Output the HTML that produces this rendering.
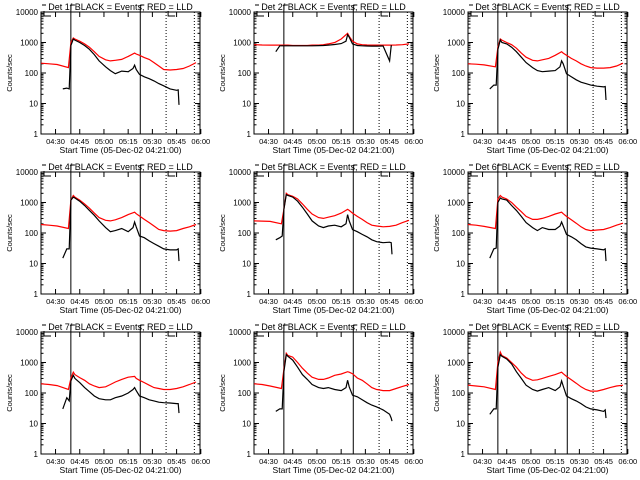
<!DOCTYPE html>
<html><head><meta charset="utf-8"><style>
html,body{margin:0;padding:0;background:#fff;}
svg{display:block;font-family:"Liberation Sans",sans-serif;}
</style></head><body>
<svg id="c" width="640" height="480" viewBox="0 0 640 480"></svg>
<script>
const detectors=["1f","2f","3f","4f","5f","6f","7f","8f","9f"];
const redTimes=[0,5,10,17,18.5,20,21,24,27,30,33,36,40,43,46,50,54,58,59,61,64,67,70,73,76,80,84,88,92,96];
const blackTimes=[13.5,16,17.5,18.5,20,21,24,27,30,33,36,40,43,46,50,54,57,58,59,61,64,67,70,73,76,80,84,85,85.5];
const red1=[210,200,190,150,1000,1400,1300,1100,900,700,500,350,270,250,260,280,350,450,420,380,320,280,220,170,130,125,130,140,170,220];
const black1=[30,32,30,800,1300,1200,1000,800,600,400,250,160,120,95,115,110,140,180,130,90,75,65,55,45,38,30,27,28,9];
const red2=[850,830,820,820,820,820,820,800,800,800,800,820,820,850,900,1000,1300,2000,1600,1100,900,850,830,820,820,820,820,830,850,900];
const black2=[500,780,780,780,780,780,780,780,780,780,780,790,800,820,860,920,1100,1800,1500,900,800,780,770,760,760,770,250,780,780];
const red3=[200,195,185,160,700,1300,1200,1000,850,650,450,330,260,250,270,300,380,500,450,380,300,250,200,170,150,145,145,150,170,210];
const black3=[30,40,40,600,1200,1000,900,700,500,330,220,150,120,110,115,120,160,250,200,95,75,60,50,45,40,37,35,36,13];
const red4=[190,180,170,140,1200,1700,1500,1200,900,650,450,320,260,250,270,320,400,480,430,360,280,220,170,130,120,115,120,140,160,190];
const black4=[15,30,30,1200,1500,1400,1100,800,550,380,250,150,110,120,140,110,150,230,160,80,70,55,45,37,30,28,28,30,12];
const red5=[250,245,240,200,600,2000,1800,1600,1300,900,600,420,320,300,330,370,450,600,550,450,350,280,220,180,170,160,165,180,220,260];
const black5=[60,70,80,600,1800,1700,1500,1100,700,420,250,170,150,170,180,160,200,400,250,130,110,90,75,60,52,48,50,48,20];
const red6=[190,180,165,140,1300,1700,1500,1300,1000,700,500,350,280,280,300,350,420,480,430,350,270,210,160,130,120,125,130,150,180,210];
const black6=[15,30,32,1000,1400,1300,1200,800,550,350,220,150,120,150,130,130,170,230,170,90,75,60,45,35,32,30,28,30,12];
const red7=[200,190,175,130,300,480,400,320,260,200,170,150,160,190,230,280,330,350,300,260,220,180,150,140,130,130,140,160,190,230];
const black7=[30,70,55,250,380,300,220,150,110,80,65,60,60,70,80,100,130,150,120,80,70,60,55,50,48,47,45,45,22];
const red8=[200,190,170,140,600,2000,1700,1500,1000,650,450,330,280,280,310,380,420,500,480,430,310,260,200,150,130,120,120,140,165,190];
const black8=[25,30,30,500,1800,1600,1200,700,400,280,190,150,140,150,130,120,150,260,160,85,75,60,48,40,35,28,20,15,12];
const red9=[180,170,160,130,1000,2200,1700,1400,1000,700,450,320,260,270,300,350,400,480,430,350,270,210,160,130,115,115,130,150,170,180];
const black9=[20,30,30,700,1800,1600,1300,900,500,300,180,130,115,130,150,120,160,250,170,80,65,55,45,35,30,28,25,28,15];
const redSeries=[red1,red2,red3,red4,red5,red6,red7,red8,red9];
const blackSeries=[black1,black2,black3,black4,black5,black6,black7,black8,black9];
const yTicks=[1,10,100,1000,10000];
const yTickLabels=["1","10","100","1000","10000"];
const xTicks=[9,24,39,54,69,84,99];
const xTickLabels=["04:30","04:45","05:00","05:15","05:30","05:45","06:00"];
const solidLines=[18.5,61.5];
const dottedLines=[77.5,95];

const svg=document.getElementById('c');
const NS="http://www.w3.org/2000/svg";
function mk(tag,attrs,parent){const e=document.createElementNS(NS,tag);for(const k in attrs)e.setAttribute(k,attrs[k]);parent.appendChild(e);return e;}

for(let p=0;p<9;p++){
  const ox=Math.round((p%3)*213.3), oy=Math.floor(p/3)*160;
  const L=ox+41,R=ox+200,T=oy+12,B=oy+134;
  const xs=t=>L+t*(R-L)/98.5;
  const ys=v=>B-(Math.log10(v))*(B-T)/4;
  const g=mk('g',{},svg);
  
  
  const box=mk('rect',{x:L,y:T,width:R-L,height:B-T,fill:'none',stroke:'#000','stroke-width':1},g);
  
  
  yTicks.forEach((v,i)=>{
    const y=ys(v);
    mk('line',{x1:L,x2:L+5,y1:y,y2:y,stroke:'#000'},g);
    mk('line',{x1:R-5,x2:R,y1:y,y2:y,stroke:'#000'},g);
    for(let m=2;m<10&&i<4;m++){const yy=ys(v*m);mk('line',{x1:L,x2:L+2.5,y1:yy,y2:yy,stroke:'#000'},g);mk('line',{x1:R-2.5,x2:R,y1:yy,y2:yy,stroke:'#000'},g);}
    const t=mk('text',{x:L-3,y:y+3,'font-size':8,'text-anchor':'end'},g);
    t.textContent=yTickLabels[i];
    
    
  });
  xTicks.forEach((tm,i)=>{
    const x=xs(tm);
    mk('line',{x1:x,x2:x,y1:B,y2:B-5,stroke:'#000'},g);
    mk('line',{x1:x,x2:x,y1:T,y2:T+5,stroke:'#000'},g);
    const t=mk('text',{x:x,y:B+10,'font-size':7.5,'text-anchor':'middle'},g);
    t.textContent=xTickLabels[i];
    
    
  });
  solidLines.forEach(tm=>{const x=xs(tm);mk('line',{x1:x,x2:x,y1:oy+5,y2:B,stroke:'#000'},g);mk('line',{x1:x,x2:x+4,y1:oy+5,y2:oy+5,stroke:'#000'},g);});
  dottedLines.forEach(tm=>{const x=xs(tm);mk('line',{x1:x,x2:x,y1:T,y2:B,stroke:'#000','stroke-dasharray':'1,2'},g);});
  mk('polyline',{points:`${L+3},${T-1} ${L+3},${T+4} ${L+10},${T+4}`,fill:'none',stroke:'#000'},g);
  mk('polyline',{points:`${xs(77.5)+2},${T-1} ${xs(77.5)+2},${T+4} ${xs(77.5)+9},${T+4}`,fill:'none',stroke:'#000'},g);
  mk('line',{x1:L+1,x2:L+5,y1:oy+5,y2:oy+5,stroke:'#000'},g);
  const rp=redTimes.map((tm,i)=>xs(tm).toFixed(1)+','+ys(redSeries[p][i]).toFixed(1)).join(' ');
  const rl=mk('polyline',{points:rp,fill:'none',stroke:'#ff0000','stroke-width':1.2},g);
  
  
  const bp=blackTimes.map((tm,i)=>xs(tm).toFixed(1)+','+ys(blackSeries[p][i]).toFixed(1)).join(' ');
  const bl=mk('polyline',{points:bp,fill:'none',stroke:'#000','stroke-width':1.2},g);
  
  
  const ti=mk('text',{x:(L+R)/2,y:oy+10,'font-size':9,'text-anchor':'middle'},g);
  ti.textContent='Det '+detectors[p]+' BLACK = Events, RED = LLD';
  
  
  const xl=mk('text',{x:(L+R)/2,y:B+19,'font-size':8.5,'text-anchor':'middle'},g);
  xl.textContent='Start Time (05-Dec-02 04:21:00)';
  
  
  const yl=mk('text',{x:0,y:0,'font-size':7.5,'text-anchor':'middle',transform:`translate(${ox+12},${(T+B)/2}) rotate(-90)`},g);
  yl.textContent='Counts/sec';
  
  
}
</script>
</body></html>
